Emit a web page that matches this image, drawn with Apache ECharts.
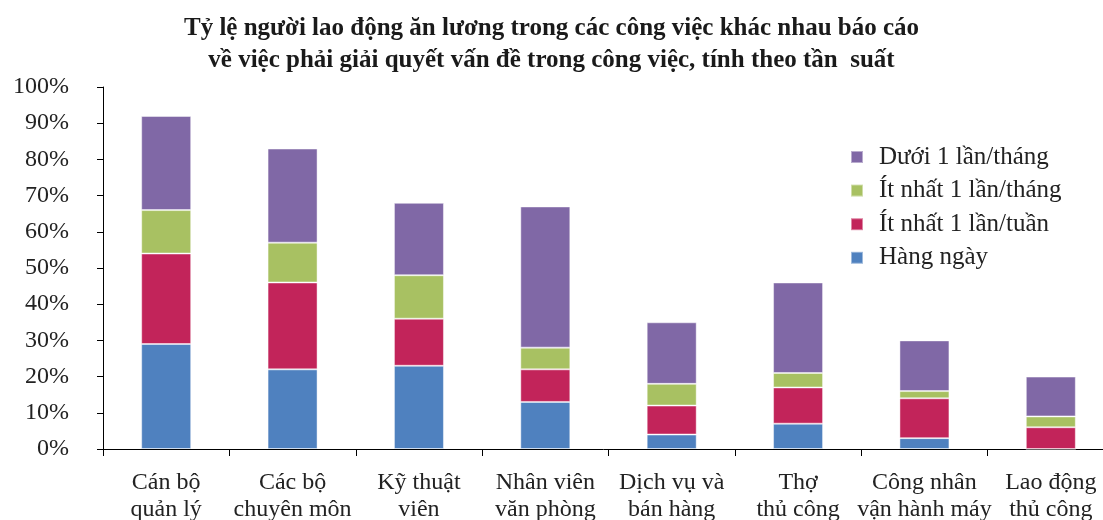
<!DOCTYPE html>
<html>
<head>
<meta charset="utf-8">
<script src="https://cdn.jsdelivr.net/npm/echarts@6/dist/echarts.min.js"></script>
<style>
  html, body { margin: 0; padding: 0; background: #fff; }
  #chart { width: 1103px; height: 520px; }
</style>
</head>
<body>
<div id="chart"></div>
<script>
// categories (two-line labels)
const categories = [
    'Cán bộ\nquản lý',
    'Các bộ\nchuyên môn',
    'Kỹ thuật\nviên',
    'Nhân viên\nvăn phòng',
    'Dịch vụ và\nbán hàng',
    'Thợ\nthủ công',
    'Công nhân\nvận hành máy',
    'Lao động\nthủ công'
];

// percent values per frequency
const hangNgay   = [29, 22, 23, 13, 4, 7, 3, 0];
const moiTuan    = [25, 24, 13, 9, 8, 10, 11, 6];
const moiThang   = [12, 11, 12, 6, 6, 4, 2, 3];
const duoiThang  = [26, 26, 20, 39, 17, 25, 14, 11];

const yTicks = [0, 10, 20, 30, 40, 50, 60, 70, 80, 90, 100];

const FONT = '"Liberation Serif", "DejaVu Serif", serif';

const seriesDefs = [
    { name: 'Hàng ngày', data: hangNgay, color: '#4F81BF' },
    { name: 'Ít nhất 1 lần/tuần', data: moiTuan, color: '#C2245A' },
    { name: 'Ít nhất 1 lần/tháng', data: moiThang, color: '#A8C162' },
    { name: 'Dưới 1 lần/tháng', data: duoiThang, color: '#8068A6' }
];

const chart = echarts.init(document.getElementById('chart'), null, { renderer: 'canvas' });

const option = {
    animation: false,
    backgroundColor: '#fff',
    title: {
        text: 'Tỷ lệ người lao động ăn lương trong các công việc khác nhau báo cáo\nvề việc phải giải quyết vấn đề trong công việc, tính theo tần  suất',
        left: 'center',
        top: 8,
        textStyle: {
            fontFamily: FONT,
            fontWeight: 'bold',
            fontSize: 25,
            lineHeight: 32,
            color: '#1a1a1a'
        }
    },
    legend: {
        orient: 'vertical',
        left: 845,
        top: 139,
        itemWidth: 12,
        itemHeight: 12,
        itemGap: 7.6,
        icon: 'rect',
        data: ['Dưới 1 lần/tháng', 'Ít nhất 1 lần/tháng', 'Ít nhất 1 lần/tuần', 'Hàng ngày'],
        textStyle: {
            fontFamily: FONT,
            fontSize: 25,
            lineHeight: 26,
            color: '#222',
            padding: [0, 0, 0, 11]
        }
    },
    grid: {
        left: 103,
        top: 87,
        width: 1011,
        height: 362,
        containLabel: false,
        outerBoundsMode: 'none'
    },
    xAxis: {
        type: 'category',
        data: categories,
        axisLine: { lineStyle: { color: '#000', width: 1 } },
        axisTick: { show: true, length: 7, lineStyle: { color: '#000' } },
        axisLabel: {
            interval: 0,
            margin: 20,
            fontFamily: FONT,
            fontSize: 24,
            lineHeight: 27,
            color: '#222'
        }
    },
    yAxis: {
        type: 'value',
        min: yTicks[0],
        max: yTicks[yTicks.length - 1],
        interval: 10,
        splitLine: { show: false },
        axisLine: { show: true, lineStyle: { color: '#000', width: 1 } },
        axisTick: { show: true, length: 6, lineStyle: { color: '#000' } },
        axisLabel: {
            margin: 34,
            formatter: '{value}%',
            fontFamily: FONT,
            fontSize: 24,
            color: '#222'
        }
    },
    series: seriesDefs.map(s => ({
        name: s.name,
        type: 'bar',
        stack: 'total',
        barWidth: 50,
        data: s.data,
        itemStyle: {
            color: s.color,
            borderColor: 'rgba(255,255,255,0.45)',
            borderWidth: 1
        }
    }))
};

chart.setOption(option);
</script>
</body>
</html>
